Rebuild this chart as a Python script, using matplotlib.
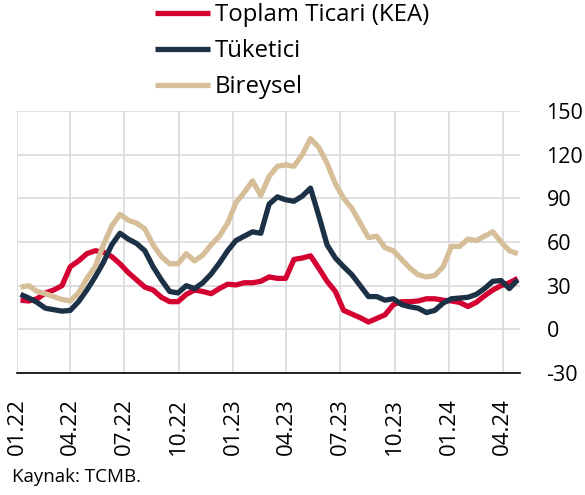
import matplotlib
matplotlib.use("Agg")
import matplotlib.pyplot as plt
import matplotlib.dates as mdates
import pandas as pd

plt.rcParams['font.family'] = ['Open Sans', 'DejaVu Sans']

# Biweekly observations, 2022-01-07 ... 2024-04-26
dates = pd.date_range('2022-01-07', periods=61, freq='14D')

toplam_ticari = [20, 19.5, 21, 25, 27, 30, 43, 47, 52, 54,
                 53, 50, 45, 39, 34, 29, 27, 22, 19, 19,
                 24, 27, 26, 24.5, 28, 31, 30.5, 32, 32, 33,
                 36, 35, 35, 48, 49, 50.5, 42, 33, 26, 13,
                 10.5, 8, 5, 7.5, 10, 17, 19, 19, 19.5, 21,
                 21, 20, 19.5, 18.5, 15.7, 18.5, 23, 27, 30, 32,
                 35]
tuketici = [24, 21.5, 18.5, 14.5, 13.5, 12.5, 13, 19, 27, 36,
            46, 58, 66, 62, 59, 54, 43, 34, 26, 25,
            30, 28, 32, 38, 45.5, 54, 61, 64, 67, 66,
            86, 91, 89, 88, 91.5, 97, 78, 58, 49, 43,
            37.5, 30, 22.5, 22.5, 20, 21, 17, 15.5, 14.5, 11.5,
            13, 18, 21, 21.5, 22, 24, 28, 33, 33.5, 28,
            34]
bireysel = [29, 30, 26, 24.5, 22.5, 20.5, 19.5, 25, 35, 43,
            58, 71, 79, 75, 73, 69, 58, 50, 45, 45,
            52, 47, 51, 58, 64, 73, 87, 94, 102, 92,
            105, 112, 113, 112, 120, 131, 125, 114, 100, 90,
            83, 73, 63, 64, 56, 54, 48, 42, 37.5, 36,
            37, 43, 57, 57, 62, 61, 64, 67, 60, 54,
            52]

series_labels = ['Toplam Ticari (KEA)', 'Tüketici', 'Bireysel']
colors = ['#D50032', '#1C3146', '#D6BE98']

tick_dates = pd.to_datetime(['2022-01-01', '2022-04-01', '2022-07-01', '2022-10-01',
                             '2023-01-01', '2023-04-01', '2023-07-01', '2023-10-01',
                             '2024-01-01', '2024-04-01'])
tick_labels = ['01.22', '04.22', '07.22', '10.22', '01.23', '04.23', '07.23',
               '10.23', '01.24', '04.24']
y_ticks = [-30, 0, 30, 60, 90, 120, 150]

fig = plt.figure(figsize=(5.85, 4.95), dpi=100)
ax = fig.add_axes([17/585, 1 - 373/495, (520-17)/585, (373-111)/495])

for vals, lab, col in zip([toplam_ticari, tuketici, bireysel], series_labels, colors):
    ax.plot(dates, vals, color=col, lw=3.8, label=lab, solid_joinstyle='round',
            solid_capstyle='butt')

ax.set_ylim(-30, 150)
ax.set_yticks(y_ticks)
ax.set_yticklabels([str(v) for v in y_ticks])
ax.set_xlim(pd.Timestamp('2022-01-01'), pd.Timestamp('2024-04-30'))
ax.set_xticks(tick_dates)
ax.set_xticklabels(tick_labels, rotation=90, va='top', ha='center')

ax.yaxis.tick_right()
ax.tick_params(axis='y', length=0, pad=19, labelsize=15.5, colors='#000000')
ax.tick_params(axis='x', length=0, pad=18, labelsize=16)
ax.grid(True, color='#D9D9D9', lw=1.2)
ax.set_axisbelow(True)
for s in ['top', 'right', 'left']:
    ax.spines[s].set_visible(False)
ax.spines['bottom'].set_color('#000000')
ax.spines['bottom'].set_linewidth(1.2)

handles, labels = ax.get_legend_handles_labels()
fig.legend(handles, labels, loc='upper left', bbox_to_anchor=(155/585, 1 - 3/495),
           frameon=False, fontsize=17.3, handlelength=2.3, handletextpad=0.2,
           labelspacing=0.5, borderpad=0, borderaxespad=0)

fig.text(12/585, 1 - 477/495, 'Kaynak: TCMB.', fontsize=13.5, va='center', ha='left')

fig.savefig('out.png', dpi=100)
